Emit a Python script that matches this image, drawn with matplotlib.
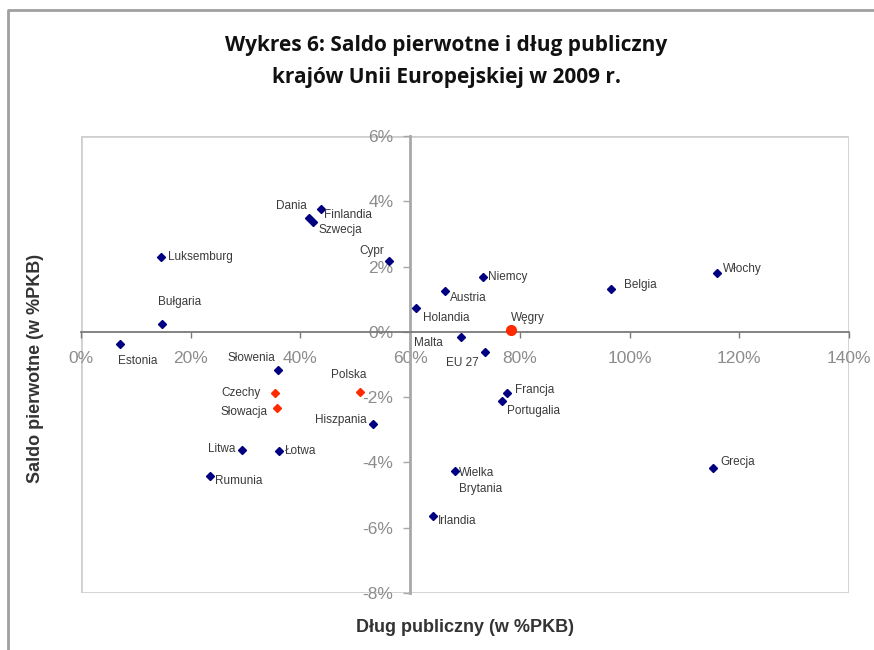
import matplotlib
matplotlib.use('Agg')
import matplotlib.pyplot as plt
from matplotlib.lines import Line2D
from matplotlib.patches import Rectangle

# dług publiczny (% PKB) i saldo pierwotne (% PKB), 2009
kraje = ['Estonia', 'Luksemburg', 'Bułgaria', 'Dania', 'Szwecja', 'Finlandia',
         'Cypr', 'Niemcy', 'Austria', 'Holandia', 'Węgry', 'Malta', 'EU 27',
         'Belgia', 'Włochy', 'Słowenia', 'Czechy', 'Słowacja', 'Polska',
         'Hiszpania', 'Litwa', 'Łotwa', 'Rumunia', 'Francja', 'Portugalia',
         'Wielka\nBrytania', 'Irlandia', 'Grecja']
dlug = [7.1, 14.6, 14.8, 41.6, 42.3, 43.8,
        56.2, 73.2, 66.4, 61.0, 78.3, 69.2, 73.6,
        96.7, 115.9, 36.0, 35.4, 35.8, 50.9,
        53.3, 29.4, 36.1, 23.5, 77.6, 76.7,
        68.1, 64.1, 115.2]
saldo = [-0.37, 2.30, 0.25, 3.49, 3.37, 3.77,
         2.18, 1.69, 1.26, 0.74, 0.06, -0.15, -0.61,
         1.32, 1.81, -1.16, -1.87, -2.33, -1.84,
         -2.82, -3.62, -3.65, -4.41, -1.87, -2.11,
         -4.26, -5.64, -4.17]
grupa_v4 = ['Czechy', 'Słowacja', 'Polska']

x_ticks = [0, 20, 40, 60, 80, 100, 120, 140]
y_ticks = [-8, -6, -4, -2, 0, 2, 4, 6]

# przesunięcia podpisów w pikselach (dx, dy w dół), wyrównanie poziome
podpisy = {
    'Estonia': (-2, 17, 'left'), 'Luksemburg': (7, 0, 'left'),
    'Bułgaria': (-4, -22, 'left'), 'Dania': (-2, -12, 'right'),
    'Szwecja': (5, 8, 'left'), 'Finlandia': (3, 6, 'left'),
    'Cypr': (-5, -10, 'right'), 'Niemcy': (5, 0, 'left'),
    'Austria': (5, 7, 'left'), 'Holandia': (7, 10, 'left'),
    'Węgry': (0, -12, 'left'), 'Malta': (-18, 6, 'right'),
    'EU 27': (-6, 11, 'right'), 'Belgia': (13, -4, 'left'),
    'Włochy': (6, -4, 'left'), 'Słowenia': (-3, -12, 'right'),
    'Czechy': (-15, 0, 'right'), 'Słowacja': (-10, 4, 'right'),
    'Polska': (6, -17, 'right'), 'Hiszpania': (-7, -4, 'right'),
    'Litwa': (-7, -1, 'right'), 'Łotwa': (6, 0, 'left'),
    'Rumunia': (5, 5, 'left'), 'Francja': (8, -3, 'left'),
    'Portugalia': (5, 10, 'left'), 'Wielka\nBrytania': (4, -4, 'left'),
    'Irlandia': (5, 5, 'left'), 'Grecja': (7, -6, 'left'),
}

NAVY = '#000080'
RED = '#ff2a00'
GRAY = '#8c8c8c'

fig = plt.figure(figsize=(8.74, 6.5), dpi=100)
ax = fig.add_axes([81 / 874, 1 - 593 / 650, 768 / 874, 457 / 650])

ax.set_xlim(0, 140)
ax.set_ylim(-8, 6)

# ramka obszaru wykresu
ax.add_patch(Rectangle((0, 0), 1, 1, transform=ax.transAxes, fill=False,
                       ec='#cfcfcf', lw=2, zorder=0))
ax.spines['top'].set_visible(False)
ax.spines['right'].set_visible(False)

# osie przecinają się w punkcie (60%, 0%)
ax.spines['left'].set_position(('data', 60))
ax.spines['bottom'].set_position(('data', 0))
ax.spines['left'].set_color('#a8a8a8')
ax.spines['left'].set_linewidth(2)
ax.spines['bottom'].set_color('#7a7a7a')
ax.spines['bottom'].set_linewidth(1.3)

ax.set_xticks(x_ticks)
ax.set_yticks(y_ticks)
ax.set_xticklabels([f'{v}%' for v in x_ticks])
ax.set_yticklabels([f'{v}%' for v in y_ticks])
ax.tick_params(axis='x', direction='out', length=4, width=1, color='#7a7a7a',
               pad=10, labelsize=12.5, labelcolor=GRAY)
ax.tick_params(axis='y', direction='out', length=5, width=1, color='#a8a8a8',
               pad=7, labelsize=12.5, labelcolor=GRAY)
for lab in ax.get_xticklabels() + ax.get_yticklabels():
    lab.set_family('Liberation Sans')

for name, x, y in zip(kraje, dlug, saldo):
    if name == 'Węgry':
        ax.plot(x, y, 'o', ms=7, color=RED, mec=RED, zorder=4)
    elif name in grupa_v4:
        ax.plot(x, y, 'D', ms=3.6, color=RED, mec=RED, zorder=4)
    else:
        ax.plot(x, y, 'D', ms=4, color=NAVY, mec=NAVY, zorder=4)

    dx, dy, ha = podpisy[name]
    ax.annotate(name, (x, y), xytext=(dx * 0.72, -dy * 0.72),
                textcoords='offset points', ha=ha,
                va='top' if '\n' in name else 'center',
                fontsize=8.5, color='#3a3a3a', family='Liberation Sans',
                linespacing=1.4, zorder=5)

fig.text(465 / 874, 1 - 628 / 650, 'Dług publiczny (w %PKB)', ha='center',
         va='center', fontsize=13, fontweight='bold', color='#333333',
         family='Liberation Sans')
fig.text(36 / 874, 1 - 368 / 650, 'Saldo pierwotne (w %PKB)', ha='center',
         va='center', rotation=90, fontsize=13, fontweight='bold',
         color='#333333', family='Liberation Sans')

fig.text(446 / 874, 1 - 45 / 650, 'Wykres 6: Saldo pierwotne i dług publiczny',
         ha='center', va='center', fontsize=15, fontweight='bold',
         color='#111111', family='Open Sans')
fig.text(446 / 874, 1 - 77 / 650, 'krajów Unii Europejskiej w 2009 r.',
         ha='center', va='center', fontsize=15, fontweight='bold',
         color='#111111', family='Open Sans')

# zewnętrzna ramka ryciny (lewa i górna krawędź)
fig.add_artist(Line2D([8 / 874, 8 / 874, 1], [0, 1 - 10 / 650, 1 - 10 / 650],
                      transform=fig.transFigure, color='#a0a0a0', lw=2))

fig.savefig('out.png', dpi=100)
